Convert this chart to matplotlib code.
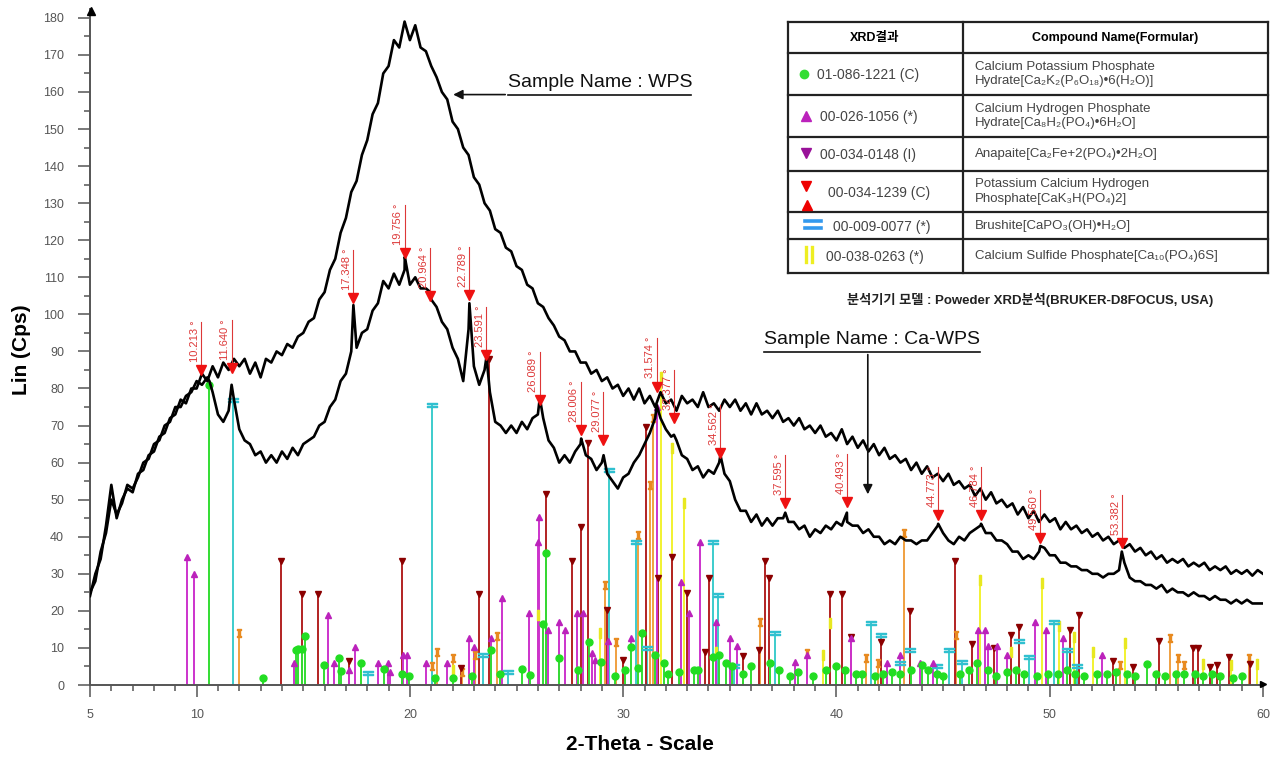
import numpy as np
import matplotlib
matplotlib.use("Agg")
from matplotlib import pyplot as plt
from matplotlib.patches import Rectangle

plt.rcParams.update({
    "font.family": ["Liberation Sans", "Noto Sans CJK KR", "DejaVu Sans"],
    "axes.linewidth": 1.3,
})
NARROW = ["Liberation Sans Narrow", "Liberation Sans", "DejaVu Sans"]

# ---------------- 스캔 데이터 (2-Theta, 0.25 deg step) ----------------
two_theta = np.linspace(5, 60, 221)

wps = [
    24, 30, 34, 43, 54, 45, 50, 53, 52, 57, 58, 62, 63, 67, 68, 72, 73, 77, 76, 80,          # 5.00
    80, 84, 82, 86, 83, 87, 85, 88, 86, 88, 84, 87, 83, 88, 87, 90, 89, 92, 91, 94,          # 10.00
    95, 98, 99, 104, 106, 112, 115, 122, 126, 133, 136, 143, 147, 154, 157, 165, 167, 174, 172, 179,  # 15.00
    174, 178, 172, 171, 167, 164, 160, 158, 152, 150, 145, 143, 137, 135, 130, 128, 123, 122, 118, 117,  # 20.00
    113, 112, 108, 107, 103, 102, 99, 97, 94, 93, 90, 90, 87, 87, 84, 85, 82, 83, 80, 81,    # 25.00
    78, 80, 77, 80, 76, 78, 75, 79, 76, 77, 74, 78, 76, 77, 75, 79, 75, 76, 74, 77,          # 30.00
    75, 77, 74, 76, 73, 76, 73, 74, 72, 74, 71, 72, 70, 72, 69, 70, 68, 70, 67, 68,          # 35.00
    66, 69, 65, 67, 64, 66, 63, 65, 62, 64, 61, 62, 60, 61, 58, 60, 57, 59, 56, 57,          # 40.00
    55, 57, 54, 55, 53, 54, 51, 53, 50, 52, 49, 50, 48, 49, 46, 48, 45, 47, 44, 46,          # 45.00
    44, 45, 42, 44, 42, 43, 41, 42, 40, 41, 39, 40, 38, 39, 37, 38, 36, 37, 35, 36,          # 50.00
    34, 35, 33, 34, 33, 34, 32, 33, 32, 33, 31, 32, 31, 32, 30, 31, 30, 31, 29.5, 31,        # 55.00
    30,                                                                                        # 60.00
]

ca_wps = [
    25, 28, 36, 41, 50, 46, 49, 54, 53, 56, 60, 61, 65, 66, 70, 71, 75, 75, 78, 79,          # 5.00
    82, 81, 83, 79, 73, 71, 74, 77, 69, 66, 65, 62, 63, 60, 62, 60, 63, 61, 64, 62,          # 10.00
    65, 66, 67, 70, 71, 75, 77, 82, 84, 90, 91, 95, 96, 101, 103, 109, 107, 111, 108, 112,   # 15.00
    108, 110, 107, 107, 104, 102, 98, 96, 91, 88, 82, 96, 86, 81, 85, 79, 71, 70, 68, 70,    # 20.00
    68, 71, 69, 72, 73, 72, 66, 64, 60, 62, 60, 63, 65, 62, 61, 58, 60, 57, 55, 53,          # 25.00
    56, 57, 60, 62, 65, 68, 72, 72, 69, 67, 66, 62, 61, 58, 59, 56, 58, 57, 60, 57,          # 30.00
    55, 50, 47, 47, 44, 46, 43, 45, 43, 45, 45, 44, 44, 42, 43, 40, 42, 41, 43, 42,          # 35.00
    44, 43, 44, 43, 43, 41, 42, 40, 40, 38, 39, 38, 40, 39, 39, 38, 39, 39, 41, 43,          # 40.00
    41, 39, 38, 40, 39, 41, 42, 43, 41, 41, 39, 39, 38, 36, 36, 34, 35, 34, 36, 37,          # 45.00
    35, 35, 33, 33, 32, 32, 31, 31, 30, 30, 29, 30, 30, 31, 33, 29, 28, 28, 27, 27,          # 50.00
    26, 27, 25, 26, 25, 25, 24, 25, 24, 24, 23, 24, 23, 23, 22, 23, 22, 23, 22, 22,          # 55.00
    22,                                                                                        # 60.00
]

# Ca-WPS 날카로운 피크 꼭짓점
ca_peak_x = [10.6, 11.64, 17.35, 19.76, 20.96, 22.79, 23.59, 26.09, 28.03, 29.08,
             31.57, 32.38, 34.56, 37.6, 40.49, 44.77, 46.78, 49.56, 53.38]
ca_peak_y = [82, 81, 102.5, 115.5, 106, 103, 88.5, 77.5, 66.5, 62,
             75.5, 67.5, 62, 46.5, 46.5, 43.5, 43.5, 37.5, 36]

# 피크 표시 (빨간 역삼각형 + 각도)
peak_pos = [10.213, 11.640, 17.348, 19.756, 20.964, 22.789, 23.591, 26.089, 28.006, 29.077,
            31.574, 32.377, 34.562, 37.595, 40.493, 44.773, 46.784, 49.560, 53.382]
peak_mark = [85, 85.5, 104.4, 116.6, 105, 105.2, 89, 76.9, 68.8, 66.1,
             80.5, 72, 62.6, 49, 49.4, 45.9, 45.9, 39.7, 38.3]
peak_labels = ["%.3f °" % p for p in peak_pos]

# ---------------- 기준 패턴 (stick) ----------------
green_pos = [10.6, 13.1, 14.66, 14.77, 14.95, 15.08, 15.98, 16.67, 16.77, 17.7, 18.77, 19.61, 19.97,
             21.17, 22.0, 22.9, 23.8, 24.22, 25.24, 25.65, 26.22, 26.38, 27.0, 27.9, 28.42, 28.95,
             29.6, 30.1, 30.35, 30.7, 30.86, 31.5, 31.9, 32.1, 32.6, 33.3, 33.5, 34.2, 34.5, 34.8,
             35.1, 35.6, 36.0, 36.9, 37.3, 37.8, 38.2, 38.9, 39.5, 40.0, 40.4, 40.9, 41.2, 41.8,
             42.2, 42.6, 43.0, 43.5, 44.0, 44.3, 44.7, 45.0, 45.8, 46.2, 46.6, 47.1, 47.5, 48.0,
             48.4, 48.8, 49.4, 49.9, 50.4, 50.8, 51.2, 51.6, 52.2, 52.7, 53.1, 53.6, 54.0, 54.58,
             55.0, 55.4, 55.9, 56.3, 56.8, 57.2, 57.6, 58.0, 58.6, 59.0]
green_h = [81, 2, 9.4, 9.8, 9.8, 13.3, 5.4, 7.2, 3.9, 6, 4.4, 3, 2.5,
           2, 2, 2.3, 9.4, 3.1, 4.2, 2.8, 16.5, 35.6, 7.2, 4, 11.6, 6.2,
           2.3, 4, 10.3, 4.5, 14, 8, 6, 3, 3.5, 4, 4, 7.5, 8, 6,
           5, 3, 5, 6, 4, 2.5, 3.5, 2.5, 4, 5, 4, 3, 3, 2.5,
           3, 3.5, 3, 4, 5.5, 4, 3, 2.5, 3, 4, 6, 4, 2.5, 3.5,
           4, 3, 2.5, 3, 3, 4, 3, 2.5, 3, 3, 3.5, 3, 2.5, 5.8,
           3, 2.5, 3, 3, 3, 2.5, 3, 2.5, 2, 2.5]

magenta_pos = [9.56, 9.89, 14.58, 16.14, 16.42, 17.16, 17.42, 18.52, 18.96, 19.08, 19.69, 19.85,
               20.75, 21.72, 22.77, 22.99, 23.8, 24.34, 25.6, 25.99, 26.06, 26.48, 26.99, 27.26,
               27.84, 28.1, 28.56, 28.68, 29.28, 30.35, 31.6, 32.69, 33.1, 33.6, 34.35, 35.0,
               35.34, 38.05, 38.6, 40.7, 42.35, 42.97, 43.9, 44.53, 46.64, 46.96, 47.11, 47.54,
               47.98, 49.33, 49.82, 50.6, 52.46]
magenta_h = [34.5, 30, 6, 19, 6, 4, 10.3, 6, 6, 3.6, 8, 8,
             6, 6, 12.6, 10.3, 12.6, 23.5, 19.4, 38.6, 45.3, 14.8, 17, 14.8,
             19.4, 19.4, 8.5, 6.7, 12, 12.6, 75, 27.8, 19.4, 38.6, 17, 12.6,
             10.5, 6.2, 8, 12.6, 6, 8, 6, 6, 14.8, 14.8, 10.5, 10.5,
             8, 17, 14.8, 12.6, 8]

darkred_pos = [13.95, 14.92, 15.7, 17.16, 19.61, 22.38, 23.26, 23.7, 26.36, 27.58, 28.0, 28.33,
               29.22, 29.97, 31.05, 31.62, 32.27, 32.97, 33.84, 34.03, 35.63, 36.38, 36.64, 36.85,
               39.7, 40.28, 40.66, 42.1, 43.44, 45.55, 46.37, 47.38, 48.17, 48.54, 50.97, 51.36,
               52.98, 53.9, 55.11, 56.72, 56.96, 57.5, 57.84, 58.4, 59.4]
darkred_h = [33.5, 24.5, 24.5, 6.4, 33.5, 4.6, 24.5, 88, 51.5, 33.5, 42.6, 65.3,
             20.2, 6.7, 69.6, 29, 34.5, 24.8, 9, 29, 7.7, 9.4, 33.5, 29,
             24.5, 24.5, 13, 11.6, 20, 33.5, 11, 10, 13.5, 15.6, 14.8, 18.9,
             6.6, 4.8, 11.9, 10, 10, 4.8, 5.5, 7.6, 5.8]

cyan_pos = [11.72, 18.05, 21.02, 23.44, 24.6, 29.33, 30.6, 31.1, 34.22, 34.46, 35.2, 37.11,
            41.6, 42.1, 43.0, 43.44, 44.7, 45.28, 45.9, 48.54, 49.02, 50.19, 50.79, 51.3]
cyan_h = [77, 3.3, 75.5, 8, 3.6, 58, 38.6, 10, 38.6, 24.3, 5, 14,
          16.7, 13.5, 6, 9.5, 5, 9.5, 6.3, 12, 7.6, 17, 9.5, 5]

yellow_pos = [22.0, 26.0, 28.9, 31.75, 32.3, 32.86, 34.35, 39.38, 39.7, 46.72, 48.17, 49.66,
              50.45, 51.15, 52.04, 53.52, 57.2, 58.5, 59.72]
yellow_h = [4, 19, 14, 83, 64, 49, 9, 8, 16.7, 28.3, 9, 27.5,
            15.8, 13, 9, 11.2, 5.8, 5.4, 5.8]

orange_pos = [12.0, 21.02, 21.28, 22.0, 22.42, 23.05, 24.07, 29.14, 29.64, 30.7, 31.25, 31.4,
              36.4, 38.6, 41.4, 41.96, 43.17, 45.6, 53.3, 55.63, 56.0, 56.3, 59.35]
orange_h = [14, 5, 9, 7.2, 3.6, 8, 13.3, 27, 11.6, 40.5, 54, 72,
            17, 8.5, 7.2, 6, 41, 13.5, 5.4, 12.6, 7.2, 5.4, 7.2]

# ---------------- 표 ----------------
card_codes = ["01-086-1221 (C)", "00-026-1056 (*)", "00-034-0148 (I)",
              "00-034-1239 (C)", "00-009-0077 (*)", "00-038-0263 (*)"]
compound_names = ["Calcium Potassium Phosphate\nHydrate[Ca₂K₂(P₆O₁₈)•6(H₂O)]",
                  "Calcium Hydrogen Phosphate\nHydrate[Ca₈H₂(PO₄)•6H₂O]",
                  "Anapaite[Ca₂Fe+2(PO₄)•2H₂O]",
                  "Potassium Calcium Hydrogen\nPhosphate[CaK₃H(PO₄)2]",
                  "Brushite[CaPO₃(OH)•H₂O]",
                  "Calcium Sulfide Phosphate[Ca₁₀(PO₄)6S]"]

# ---------------- 그림 ----------------
W, H = 1277, 762
fig = plt.figure(figsize=(W / 100, H / 100), dpi=100)
ax = fig.add_axes([90 / W, 1 - 685 / H, (1263 - 90) / W, (685 - 8.6) / H])
ax.set_xlim(5, 60)
ax.set_ylim(0, 182.5)

axis_gray = "#555555"
for s in ["top", "right"]:
    ax.spines[s].set_visible(False)
for s in ["left", "bottom"]:
    ax.spines[s].set_color(axis_gray)
    ax.spines[s].set_linewidth(1.4)

ax.set_xticks([5, 10, 20, 30, 40, 50, 60])
ax.set_xticks(np.arange(5, 61, 1), minor=True)
ax.set_yticks(np.arange(0, 181, 10))
ax.set_yticks(np.arange(0, 181, 5), minor=True)
ax.tick_params(which="major", length=8.6, width=1.1, color=axis_gray,
               labelsize=9, labelcolor="#555555")
ax.tick_params(which="minor", length=4.5, width=1.1, color=axis_gray)
ax.tick_params(axis="x", which="major", pad=9)
ax.tick_params(axis="y", which="major", pad=10)
for lab in ax.get_xticklabels() + ax.get_yticklabels():
    lab.set_family(NARROW)

# 축 끝 화살표
ax.plot(5.05, 181.8, marker="^", color="black", ms=6, clip_on=False, zorder=6)
ax.plot(60, 0.3, marker=">", color="black", ms=5, clip_on=False, zorder=6)


def sticks(pos, h, color, marker, mcolor, ms, mew=1.0):
    ax.vlines(pos, 0, h, colors=color, lw=1.4, zorder=2)
    ax.plot(pos, h, ls="none", marker=marker, color=mcolor, ms=ms, mew=mew, zorder=2.5)


sticks(orange_pos, orange_h, "#f0a040", r"$\mathtt{I}$", "#e88a20", 6)
sticks(yellow_pos, yellow_h, "#f2f230", r"$\|$", "#e8e820", 7)
sticks(cyan_pos, cyan_h, "#3ccccc", r"$=$", "#30c0d0", 7)
sticks(darkred_pos, darkred_h, "#b22222", "v", "#8b0000", 5)
sticks(magenta_pos, magenta_h, "#cc33cc", "^", "#bb22bb", 5)
sticks(green_pos, green_h, "#33dd33", "o", "#22dd22", 5)

# 측정 곡선
ax.plot(two_theta, wps, color="black", lw=1.9, zorder=3)
cx = np.concatenate([two_theta, ca_peak_x])
cy = np.concatenate([ca_wps, ca_peak_y])
order = np.argsort(cx)
ax.plot(cx[order], cy[order], color="black", lw=1.9, zorder=3)

# 피크 표시
for p, m, lab in zip(peak_pos, peak_mark, peak_labels):
    ax.plot([p, p], [m, m + 13], color="#dd3838", lw=0.8, zorder=4)
    ax.plot(p, m, marker="v", color="#ee1111", ms=7, zorder=5)
    ax.text(p - 0.06, m + 2.2, lab, rotation=90, ha="right", va="bottom",
            fontsize=8, color="#dd3838", family=NARROW, zorder=5)

# 샘플 이름
ax.text(24.6, 160.2, "Sample Name : WPS", fontsize=14, ha="left", va="bottom", color="#111111")
ax.plot([24.6, 33.2], [159.3, 159.3], color="#111111", lw=1.2)
ax.annotate("", xy=(21.9, 159.3), xytext=(24.6, 159.3),
            arrowprops=dict(arrowstyle="-|>", color="#111111", lw=1.2, mutation_scale=14))

ax.text(36.6, 90.8, "Sample Name : Ca-WPS", fontsize=14, ha="left", va="bottom", color="#111111")
ax.plot([36.6, 46.75], [89.9, 89.9], color="#111111", lw=1.2)
ax.annotate("", xy=(41.47, 50.7), xytext=(41.47, 89.9),
            arrowprops=dict(arrowstyle="-|>", color="#111111", lw=1.2, mutation_scale=14))

fig.text(22 / W, 1 - 350 / H, "Lin (Cps)", rotation=90, ha="center", va="center",
         fontsize=15, fontweight="bold")
fig.text(640 / W, 1 - 745 / H, "2-Theta - Scale", ha="center", va="center",
         fontsize=15, fontweight="bold")

# ---------------- 범례 표 (픽셀 좌표) ----------------
tb = fig.add_axes([0, 0, 1, 1], zorder=10)
tb.set_xlim(0, W)
tb.set_ylim(H, 0)
tb.axis("off")
tb.patch.set_alpha(0)

x0, x1, xm = 788, 1268, 963
row_lines = [22, 53, 95, 137, 171, 212, 239, 273]
tb.add_patch(Rectangle((x0, 22), x1 - x0, 273 - 22, fc="white", ec="none"))
for y in row_lines:
    tb.plot([x0, x1], [y, y], color="#222222", lw=1.6, solid_capstyle="projecting")
for x in [x0, xm, x1]:
    tb.plot([x, x], [22, 273], color="#222222", lw=1.6)

tb.text(875, 38, "XRD결과", ha="center", va="center", fontsize=9, fontweight="bold")
tb.text(1115, 38, "Compound Name(Formular)", ha="center", va="center", fontsize=9, fontweight="bold")

row_mid = [(a + b) / 2 for a, b in zip(row_lines[1:-1], row_lines[2:])]
code_x = [817, 820, 820, 828, 833, 826]
for yc, x, code, name in zip(row_mid, code_x, card_codes, compound_names):
    tb.text(x, yc + 1, code, ha="left", va="center", fontsize=10, color="#444444")
    tb.text(975, yc, name, ha="left", va="center", fontsize=9.5, color="#444444", linespacing=1.3)

tb.plot(804, row_mid[0], marker="o", color="#33dd33", ms=6)
tb.plot(806, row_mid[1], marker="^", color="#bb22bb", ms=7)
tb.plot(806, row_mid[2] - 1, marker="v", color="#991199", ms=7)
tb.plot(806, row_mid[3] - 6, marker="v", color="#ee0000", ms=7)
tb.plot(807, row_mid[3] + 13, marker="^", color="#ee0000", ms=7)
tb.plot([805, 821], [row_mid[4] - 5, row_mid[4] - 5], color="#3399ee", lw=2.6)
tb.plot([805, 821], [row_mid[4] + 2, row_mid[4] + 2], color="#3399ee", lw=2.6)
tb.plot([806, 806], [row_mid[5] - 9, row_mid[5] + 6], color="#eeee22", lw=2.4)
tb.plot([812, 812], [row_mid[5] - 9, row_mid[5] + 6], color="#eeee22", lw=2.4)

tb.text(1030, 300, "분석기기 모델 : Poweder XRD분석(BRUKER-D8FOCUS, USA)", ha="center", va="center",
        fontsize=9.5, fontweight="bold", color="#222222")

fig.savefig("out.png", dpi=100)
